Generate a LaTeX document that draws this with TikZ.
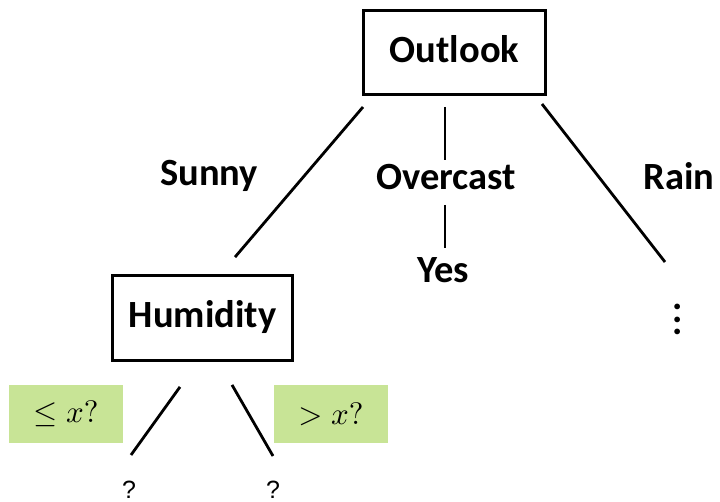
\documentclass[tikz,border=0pt]{standalone}
\usepackage{graphicx}
\usepackage{fontspec}
\setmainfont{Carlito}
\newfontfamily\qfont{Liberation Sans}
\definecolor{leaf}{RGB}{200,228,150}
\newcommand{\bigmath}[1]{\scalebox{3.1}{$#1$}}
\begin{document}
\begin{tikzpicture}[x=1pt,y=-1pt,
  box/.style={draw, line width=2.8pt, inner sep=0pt, text height=27pt, text depth=7pt,
    font=\fontsize{38.5}{40}\selectfont\bfseries},
  lbl/.style={inner sep=0pt, anchor=base, font=\fontsize{38.5}{40}\selectfont\bfseries},
  cond/.style={fill=leaf, minimum width=114, minimum height=58, inner sep=0pt},
  conn/.style={line width=2.8pt},
  qmark/.style={inner sep=0pt, anchor=base, font=\qfont\fontsize{25}{28}\selectfont}]
\useasboundingbox (0,0) rectangle (720,502);
% nodes
\node[box, minimum width=182.2, minimum height=84.2] (outlook) at (454.5,52.5) {Outlook};
\node[box, minimum width=180, minimum height=85] (humidity) at (202.5,318) {Humidity};
\node[lbl] (sunny) at (209,186) {Sunny};
\node[lbl] (overcast) at (446,190) {Overcast};
\node[lbl] (rain) at (679,190) {Rain};
\node[lbl] (yes) at (443,283) {Yes};
\node[inner sep=0pt] (more) at (678,319.5)
  {\fontsize{38.5}{12.5}\selectfont\bfseries\vbox{\hbox{.}\hbox{.}\hbox{.}}};
\node[cond] (le) at (66,414) {\bigmath{\le x?}};
\node[cond] (gt) at (331,414) {\bigmath{> x?}};
\node[qmark] (q1) at (129,498) {?};
\node[qmark] (q2) at (273,498) {?};
% connectors
\draw[conn] ([shift={(1,11)}]outlook.south west) -- ([shift={(32.5,-17)}]humidity.north);
\draw[conn] ([shift={(-9.5,11)}]outlook.south) -- ([shift={(-1,-30)}]overcast.base);
\draw[conn] ([shift={(-1,15)}]overcast.base) -- ([shift={(2,-35)}]yes.base);
\draw[conn] ([shift={(-5,8)}]outlook.south east) -- ([shift={(-13,-57.5)}]more.center);
\draw[conn] ([shift={(-22.5,25)}]humidity.south) -- ([shift={(2,-43)}]q1.base);
\draw[conn] ([shift={(29.5,23)}]humidity.south) -- ([shift={(0,-42)}]q2.base);
\end{tikzpicture}
\end{document}
